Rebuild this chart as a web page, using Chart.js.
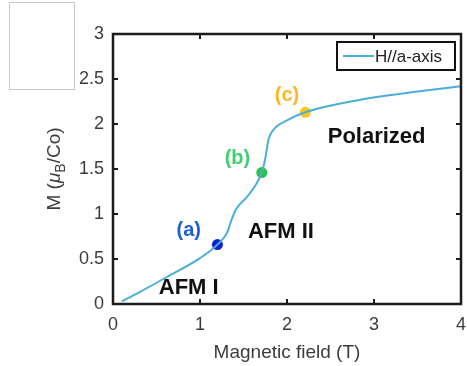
<!DOCTYPE html>
<html>
<head>
<meta charset="utf-8">
<script src="https://cdn.jsdelivr.net/npm/chart.js@4/dist/chart.umd.min.js"></script>
<style>
  body { margin: 0; background: #fff; }
  canvas { display: block; }
</style>
</head>
<body>
<canvas id="chart-mag" width="467" height="366"></canvas>
<script>
'use strict';
// M(H) curve, field along a-axis
let fieldT = [0.1, 0.3, 0.62, 1.0, 1.2, 1.31, 1.36, 1.42, 1.54, 1.65, 1.71, 1.755, 1.785, 1.84, 2.0, 2.21, 2.63, 3.03, 3.5, 4.0];
let moment = [0.03, 0.13, 0.30, 0.51, 0.66, 0.79, 0.93, 1.06, 1.19, 1.34, 1.46, 1.64, 1.82, 1.93, 2.04, 2.13, 2.23, 2.30, 2.36, 2.42];
let seriesLabel = 'H//a-axis';

// marked states (a), (b), (c)
let markNames = ['(a)', '(b)', '(c)'];
let markField = [1.2, 1.71, 2.21];
let markMoment = [0.66, 1.46, 2.13];
let markDotColors = ['#0a22d4', '#2cc246', '#ffc61c'];
let markTextColors = ['#1f5ed8', '#3fcf72', '#ffb71c'];

let xTicks = [0, 1, 2, 3, 4];
let yTicks = [0, 0.5, 1, 1.5, 2, 2.5, 3];

// phase labels and where the mark labels sit (data units)
let phaseText = [
    {text: 'AFM I', x: 0.87, y: 0.18},
    {text: 'AFM II', x: 1.93, y: 0.80},
    {text: 'Polarized', x: 3.03, y: 1.86},
];
let markTextPos = [{x: 0.87, y: 0.82}, {x: 1.43, y: 1.62}, {x: 2.0, y: 2.32}];

const LINE = '#4aaedb';
const AXIS = '#1c1c1c';
const TXT = '#3c3c3c';
const FONT = '"Liberation Sans", Arial, sans-serif';

let decorPlugin = {
    id: 'decor',
    afterDatasetsDraw(chart){
        let ctx = chart.ctx;
        let xs = chart.scales.x, ys = chart.scales.y;
        ctx.save();
        ctx.textAlign = 'center';
        ctx.textBaseline = 'middle';
        ctx.font = 'bold 22px ' + FONT;
        ctx.fillStyle = '#111';
        phaseText.forEach(p => {
            ctx.fillText(p.text, xs.getPixelForValue(p.x), ys.getPixelForValue(p.y));
        });
        ctx.font = 'bold 20px ' + FONT;
        markNames.forEach((name, i) => {
            ctx.fillStyle = markTextColors[i];
            ctx.fillText(name, xs.getPixelForValue(markTextPos[i].x), ys.getPixelForValue(markTextPos[i].y));
        });
        ctx.restore();
    },
    afterDraw(chart){
        let ctx = chart.ctx;
        let a = chart.chartArea;
        let xs = chart.scales.x, ys = chart.scales.y;
        ctx.save();

        // frame with inward ticks
        ctx.strokeStyle = AXIS;
        ctx.lineWidth = 2.5;
        ctx.strokeRect(a.left, a.top, a.right - a.left, a.bottom - a.top);
        ctx.lineWidth = 2;
        ctx.beginPath();
        xTicks.slice(1, -1).forEach(v => {
            let px = xs.getPixelForValue(v);
            ctx.moveTo(px, a.bottom); ctx.lineTo(px, a.bottom - 5);
            ctx.moveTo(px, a.top); ctx.lineTo(px, a.top + 5);
        });
        yTicks.slice(1, -1).forEach(v => {
            let py = ys.getPixelForValue(v);
            ctx.moveTo(a.left, py); ctx.lineTo(a.left + 5, py);
            ctx.moveTo(a.right, py); ctx.lineTo(a.right - 5, py);
        });
        ctx.stroke();

        // legend box
        ctx.lineWidth = 2;
        ctx.strokeStyle = '#111';
        ctx.fillStyle = '#fff';
        ctx.fillRect(337, 42, 118, 28);
        ctx.strokeRect(337, 42, 118, 28);
        ctx.strokeStyle = LINE;
        ctx.beginPath();
        ctx.moveTo(343, 56); ctx.lineTo(374, 56);
        ctx.stroke();
        ctx.fillStyle = '#222';
        ctx.font = '17px ' + FONT;
        ctx.textAlign = 'left';
        ctx.textBaseline = 'middle';
        ctx.fillText(seriesLabel, 375, 57);

        // x axis title
        ctx.fillStyle = TXT;
        ctx.font = '19px ' + FONT;
        ctx.textAlign = 'center';
        ctx.textBaseline = 'alphabetic';
        ctx.fillText('Magnetic field (T)', (a.left + a.right) / 2, 358);

        // y axis title with subscript
        ctx.translate(54, (a.top + a.bottom) / 2);
        ctx.rotate(-Math.PI / 2);
        ctx.textAlign = 'left';
        let big = '19px ' + FONT, ital = 'italic 19px ' + FONT, small = '14px ' + FONT;
        let parts = [['M (', big, 0], ['\u03bc', ital, 0], ['B', small, 5], ['/Co)', big, 0]];
        let total = 0;
        parts.forEach(p => { ctx.font = p[1]; total += ctx.measureText(p[0]).width; });
        let cx = -total / 2;
        parts.forEach(p => {
            ctx.font = p[1];
            ctx.fillText(p[0], cx, 6 + p[2]);
            cx += ctx.measureText(p[0]).width;
        });
        ctx.restore();

        // empty grey box top-left
        ctx.save();
        ctx.strokeStyle = '#c8c8c8';
        ctx.lineWidth = 1;
        ctx.strokeRect(9.5, 2.5, 65, 87);
        ctx.restore();
    }
};

let curvePoints = fieldT.map((x, i) => ({x: x, y: moment[i]}));
let markPoints = markField.map((x, i) => ({x: x, y: markMoment[i]}));

new Chart(document.getElementById('chart-mag').getContext('2d'), {
    type: 'line',
    data: {
        datasets: [
            {
                label: seriesLabel,
                data: curvePoints,
                borderColor: LINE,
                borderWidth: 2,
                pointRadius: 0,
                cubicInterpolationMode: 'monotone',
                fill: false
            },
            {
                label: 'marks',
                data: markPoints,
                showLine: false,
                pointRadius: 5.5,
                pointBorderWidth: 0,
                pointBackgroundColor: markDotColors,
                pointBorderColor: markDotColors
            }
        ]
    },
    options: {
        responsive: false,
        animation: false,
        devicePixelRatio: 1,
        layout: {padding: {top: 34, right: 6, left: 0, bottom: 0}},
        plugins: {legend: {display: false}, tooltip: {enabled: false}},
        scales: {
            x: {
                type: 'linear', min: 0, max: 4,
                afterBuildTicks: s => { s.ticks = xTicks.map(v => ({value: v})); },
                afterFit: s => { s.height = 62; s.paddingLeft = 0; s.paddingRight = 0; },
                grid: {display: false, drawTicks: false},
                border: {display: false},
                ticks: {padding: 10, color: TXT, font: {family: FONT, size: 18}, callback: v => String(v)}
            },
            y: {
                type: 'linear', min: 0, max: 3,
                afterBuildTicks: s => { s.ticks = yTicks.map(v => ({value: v})); },
                afterFit: s => { s.width = 113; s.paddingTop = 0; s.paddingBottom = 0; },
                grid: {display: false, drawTicks: false},
                border: {display: false},
                ticks: {padding: 9, color: TXT, font: {family: FONT, size: 18}, callback: v => String(v)}
            }
        }
    },
    plugins: [decorPlugin]
});
</script>
</body>
</html>
